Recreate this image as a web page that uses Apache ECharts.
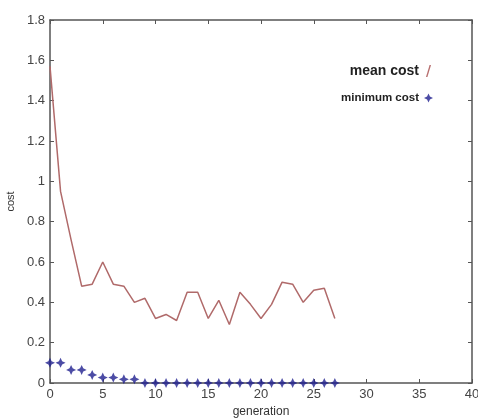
<!DOCTYPE html>
<html>
<head>
<meta charset="utf-8">
<script src="https://cdn.jsdelivr.net/npm/echarts@6/dist/echarts.min.js"></script>
<style>
    html, body { margin: 0; padding: 0; background: #fff; }
    #main { width: 478px; height: 420px; }
</style>
</head>
<body>
<div id="main"></div>
<script>
'use strict';

// generations 0..27
var generations = [0, 1, 2, 3, 4, 5, 6, 7, 8, 9, 10, 11, 12, 13, 14, 15, 16, 17, 18, 19, 20, 21, 22, 23, 24, 25, 26, 27];
var meanCost = [1.57, 0.95, 0.71, 0.48, 0.49, 0.6, 0.49, 0.48, 0.4, 0.42, 0.32, 0.34, 0.31, 0.45, 0.45, 0.32, 0.41, 0.29, 0.45, 0.39, 0.32, 0.39, 0.5, 0.49, 0.4, 0.46, 0.47, 0.32];
var minCost = [0.1, 0.1, 0.065, 0.065, 0.04, 0.027, 0.027, 0.018, 0.018, 0, 0, 0, 0, 0, 0, 0, 0, 0, 0, 0, 0, 0, 0, 0, 0, 0, 0, 0];
var seriesNames = ['mean cost', 'minimum cost'];

var starPath = 'path://M5,0 L6.6,3.4 L10,5 L6.6,6.6 L5,10 L3.4,6.6 L0,5 L3.4,3.4 Z';
var slashPath = 'path://M0,10 L1.2,10 L4.2,0 L3,0 Z';

function pairs(xs, ys) {
    var d = [];
    for (var i = 0; i < xs.length; i++) {
        d.push([xs[i], ys[i]]);
    }
    return d;
}

var axisColor = '#555';
var fontFam = 'Liberation Sans, Arial, sans-serif';
var labelStyle = { color: '#444', fontSize: 13, fontFamily: fontFam };

// top / right axes only close the box
function boxAxis(pos, isX) {
    return {
        type: 'value',
        position: pos,
        min: 0,
        max: isX ? 40 : 1.8,
        interval: isX ? 5 : 0.2,
        axisLine: { show: true, onZero: false, lineStyle: { color: axisColor, width: 1.5 } },
        axisTick: { show: true, inside: true, length: 4, lineStyle: { color: axisColor } },
        axisLabel: { show: false },
        splitLine: { show: false }
    };
}

var myChart = echarts.init(document.getElementById('main'));

var option = {
    animation: false,
    backgroundColor: '#fff',
    grid: { left: 50, right: 6, top: 20, bottom: 37, outerBoundsMode: 'none', containLabel: false },
    legend: {
        right: 40,
        top: 59,
        orient: 'vertical',
        align: 'right',
        itemGap: 14,
        itemWidth: 9,
        itemHeight: 12,
        textStyle: { color: '#222', fontSize: 12, fontWeight: 'bold', fontFamily: fontFam },
        data: [
            { name: seriesNames[0], icon: slashPath, itemStyle: { color: '#b87070' },
              textStyle: { fontSize: 14, fontWeight: 'bold', color: '#222' } },
            { name: seriesNames[1], icon: starPath, itemStyle: { color: '#1f1f8f' },
              textStyle: { fontSize: 11.5, fontWeight: 'bold', color: '#222' } }
        ]
    },
    xAxis: [{
        type: 'value',
        position: 'bottom',
        min: 0,
        max: 40,
        interval: 5,
        name: 'generation',
        nameLocation: 'middle',
        nameGap: 23,
        nameTextStyle: { color: '#333', fontSize: 12, fontFamily: fontFam },
        axisLine: { show: true, onZero: false, lineStyle: { color: axisColor, width: 1.5 } },
        axisTick: { show: true, inside: true, length: 4, lineStyle: { color: axisColor } },
        axisLabel: Object.assign({ margin: 5 }, labelStyle),
        splitLine: { show: false }
    }, boxAxis('top', true)],
    yAxis: [{
        type: 'value',
        position: 'left',
        min: 0,
        max: 1.8,
        interval: 0.2,
        name: 'cost',
        nameLocation: 'middle',
        nameGap: 33,
        nameTextStyle: { color: '#333', fontSize: 11, fontFamily: fontFam },
        axisLine: { show: true, onZero: false, lineStyle: { color: axisColor, width: 1.5 } },
        axisTick: { show: true, inside: true, length: 4, lineStyle: { color: axisColor } },
        axisLabel: Object.assign({
            margin: 5,
            formatter: function(v) { return String(Math.round(v * 10) / 10); }
        }, labelStyle),
        splitLine: { show: false }
    }, boxAxis('right', false)],
    series: [{
        name: seriesNames[0],
        type: 'line',
        xAxisIndex: 0,
        yAxisIndex: 0,
        showSymbol: false,
        symbol: 'none',
        lineStyle: { color: '#b06a6a', width: 1.5 },
        itemStyle: { color: '#b87070' },
        data: pairs(generations, meanCost)
    }, {
        name: seriesNames[1],
        type: 'scatter',
        xAxisIndex: 0,
        yAxisIndex: 0,
        symbol: starPath,
        symbolSize: 10,
        itemStyle: { color: '#1f1f8f' },
        data: pairs(generations, minCost)
    }]
};
myChart.setOption(option);
</script>
</body>
</html>
